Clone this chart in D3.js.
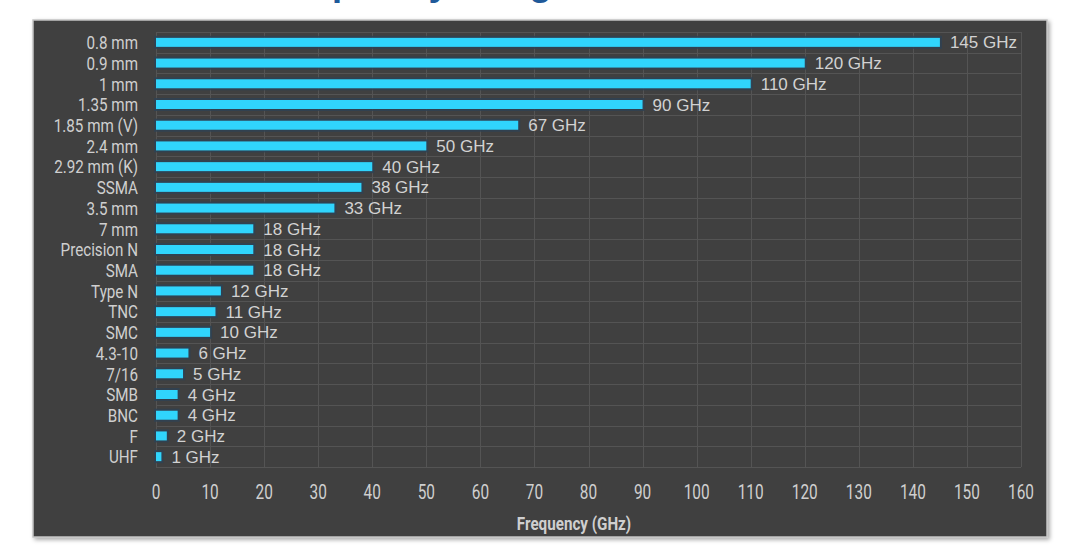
<!DOCTYPE html>
<html>
<head>
<meta charset="utf-8">
<script src="https://cdn.jsdelivr.net/npm/d3@7"></script>
<style>
  html, body { margin: 0; padding: 0; background: #fff; }
  svg { display: block; }
</style>
</head>
<body>
<div id="chart"></div>
<script>
// ---------- data ----------
const connectors = ["0.8 mm", "0.9 mm", "1 mm", "1.35 mm", "1.85 mm (V)", "2.4 mm", "2.92 mm (K)",
  "SSMA", "3.5 mm", "7 mm", "Precision N", "SMA", "Type N", "TNC", "SMC", "4.3-10", "7/16",
  "SMB", "BNC", "F", "UHF"];
const maxFreq = [145, 120, 110, 90, 67, 50, 40, 38, 33, 18, 18, 18, 12, 11, 10, 6, 5, 4, 4, 2, 1];
const xTicks = d3.range(0, 161, 10);
const titleText = "Frequency Range of RF Connectors";
const axisTitle = "Frequency (GHz)";

// ---------- layout ----------
const W = 1080, H = 546;
const panel = { x: 33, y: 20, w: 1014, h: 517 };
const plot = { left: 156, right: 1021, top: 32, bottom: 467 };
const cond = "Roboto, 'Noto Sans', sans-serif";   // squeezed horizontally below
const squeeze = 0.8;
const sans = "'Liberation Sans', Arial, sans-serif";

const svg = d3.select("#chart").append("svg").attr("width", W).attr("height", H);

const defs = svg.append("defs");
const f = defs.append("filter").attr("id", "shadow")
  .attr("x", "-5%").attr("y", "-5%").attr("width", "110%").attr("height", "115%");
f.append("feDropShadow").attr("dx", 2).attr("dy", 2).attr("stdDeviation", 2)
  .attr("flood-color", "#000").attr("flood-opacity", 0.35);

// title (mostly clipped at the top of the page, as in the source image)
svg.append("text")
  .attr("x", 262).attr("y", -5)
  .style("font-family", sans).style("font-weight", 700).style("font-size", "37px")
  .attr("fill", "#1f5a9a")
  .text(titleText);

// panel
svg.append("rect")
  .attr("x", panel.x).attr("y", panel.y).attr("width", panel.w).attr("height", panel.h)
  .attr("fill", "#404040").attr("stroke", "#c4c4c4").attr("stroke-width", 1.5)
  .attr("filter", "url(#shadow)");

const x = d3.scaleLinear().domain([0, 160]).range([plot.left, plot.right]);
const y = d3.scaleBand().domain(connectors).range([plot.top, plot.bottom]);

// grid
const grid = svg.append("g").attr("stroke", "#545454").attr("stroke-width", 1);
grid.selectAll("line.v").data(xTicks).enter().append("line")
  .attr("x1", d => Math.round(x(d)) + 0.5).attr("x2", d => Math.round(x(d)) + 0.5)
  .attr("y1", plot.top).attr("y2", plot.bottom);
const hLines = connectors.map(c => y(c)).concat([plot.bottom]);
grid.selectAll("line.h").data(hLines).enter().append("line")
  .attr("x1", plot.left).attr("x2", plot.right)
  .attr("y1", d => Math.round(d) + 0.5).attr("y2", d => Math.round(d) + 0.5);

// bars
const barH = 9;
const bars = svg.append("g");
const rows = connectors.map((c, i) => ({ c, v: maxFreq[i] }));
bars.selectAll("rect.halo").data(rows).enter().append("rect")
  .attr("x", x(0) - 2)
  .attr("y", d => y(d.c) + y.bandwidth() / 2 - barH / 2 - 2)
  .attr("width", d => x(d.v) - x(0) + 4)
  .attr("height", barH + 4)
  .attr("fill", "#2f4253").attr("opacity", 0.85);
bars.selectAll("rect.bar").data(rows).enter().append("rect")
  .attr("x", x(0))
  .attr("y", d => y(d.c) + y.bandwidth() / 2 - barH / 2)
  .attr("width", d => x(d.v) - x(0))
  .attr("height", barH)
  .attr("fill", "#30d5fd");

// value labels
svg.append("g").selectAll("text").data(rows).enter().append("text")
  .attr("x", d => x(d.v) + 10)
  .attr("y", d => y(d.c) + y.bandwidth() / 2)
  .attr("dy", "0.36em")
  .style("font-family", sans).style("font-size", "17px")
  .attr("fill", "#d2d2d2")
  .text(d => d.v + " GHz");

// condensed text: real text, squeezed with a transform
function condText(sel) {
  return sel.style("font-family", cond).style("font-size", "19px").attr("fill", "#cfcfcf").attr("dy", "0.36em");
}

// y axis labels
condText(svg.append("g").selectAll("text").data(connectors).enter().append("text")
  .attr("transform", d => `translate(138,${y(d) + y.bandwidth() / 2}) scale(${squeeze},1)`)
  .attr("text-anchor", "end"))
  .text(d => d);

// x axis labels
condText(svg.append("g").selectAll("text").data(xTicks).enter().append("text")
  .attr("transform", d => `translate(${x(d)},492) scale(0.77,1)`)
  .attr("text-anchor", "middle"))
  .style("font-size", "20px")
  .text(d => d);

// axis title
condText(svg.append("text")
  .attr("transform", `translate(574,523) scale(0.8,1)`)
  .attr("text-anchor", "middle"))
  .style("font-weight", 700)
  .text(axisTitle);
</script>
</body>
</html>
